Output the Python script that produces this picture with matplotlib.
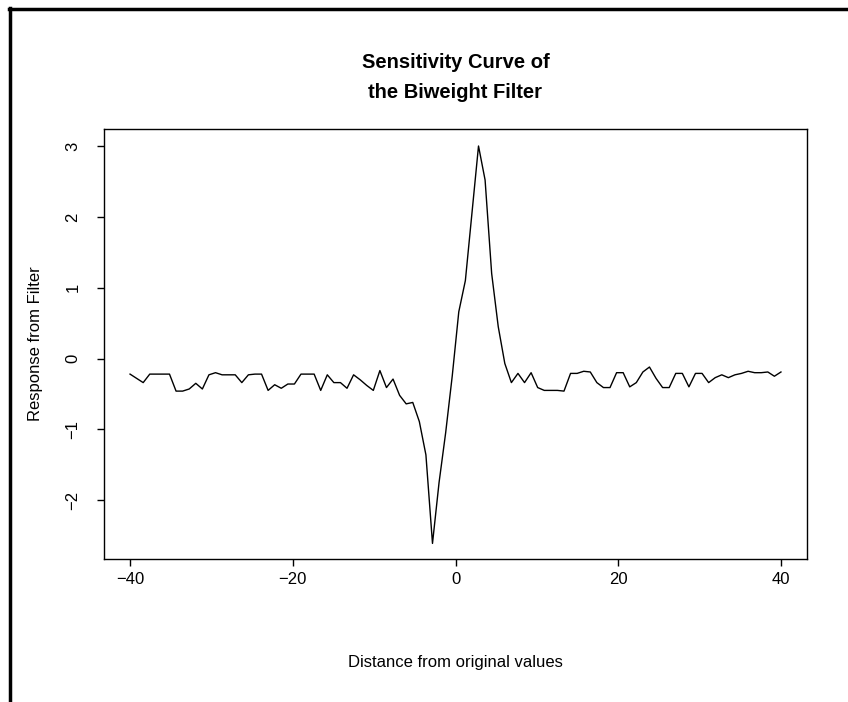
import numpy as np
import matplotlib.pyplot as plt
from matplotlib.lines import Line2D

plt.rcParams['font.family'] = ['Liberation Sans', 'DejaVu Sans']

# distance grid (100 evenly spaced values) and filter response
distance = np.linspace(-40, 40, 100)
response = [
    -0.22, -0.28, -0.34, -0.22, -0.22, -0.22, -0.22, -0.46, -0.46, -0.43,
    -0.35, -0.43, -0.23, -0.20, -0.23, -0.23, -0.23, -0.34, -0.23, -0.22,
    -0.22, -0.45, -0.37, -0.42, -0.36, -0.36, -0.22, -0.22, -0.22, -0.45,
    -0.23, -0.34, -0.34, -0.42, -0.23, -0.30, -0.38, -0.45, -0.17, -0.41,
    -0.29, -0.52, -0.64, -0.62, -0.89, -1.36, -2.61, -1.75, -1.05, -0.25,
    0.66, 1.10, 2.05, 3.00, 2.52, 1.20, 0.45, -0.07, -0.34, -0.21,
    -0.34, -0.20, -0.41, -0.45, -0.45, -0.45, -0.46, -0.21, -0.21, -0.18,
    -0.19, -0.34, -0.41, -0.41, -0.20, -0.20, -0.40, -0.34, -0.19, -0.12,
    -0.28, -0.41, -0.41, -0.21, -0.21, -0.40, -0.21, -0.21, -0.34, -0.27,
    -0.23, -0.27, -0.23, -0.21, -0.18, -0.20, -0.20, -0.19, -0.25, -0.19,
]
xticks = [-40, -20, 0, 20, 40]
yticks = [-2, -1, 0, 1, 2, 3]

fig = plt.figure(figsize=(8.48, 7.02), dpi=100)
ax = fig.add_axes([104/848, 1-559/702, (807-104)/848, (559-129)/702])
ax.plot(distance, response, color='black', linewidth=1.0)
ax.set_xlim(-43.2, 43.2)
ax.set_ylim(-2.83, 3.24)
ax.set_xticks(xticks)
ax.set_yticks(yticks)
ax.set_yticklabels([str(t) if t >= 0 else '\u2212' + str(-t) for t in yticks],
                   rotation=90, va='center')
ax.tick_params(direction='out', length=5, width=1, labelsize=12)
ax.tick_params(axis='x', pad=4)
ax.tick_params(axis='y', pad=12)
for s in ax.spines.values():
    s.set_linewidth(1)
ax.set_xlabel('Distance from original values', fontsize=12, labelpad=49)
ax.set_ylabel('Response from Filter', fontsize=12, labelpad=16)
ax.set_title('Sensitivity Curve of\nthe Biweight Filter', fontsize=14.5,
             fontweight='bold', pad=22, linespacing=1.75)

# frame edges of the original image
fig.add_artist(Line2D([9/848, 1], [1-9/702, 1-9/702], color='black', linewidth=2.5,
                      transform=fig.transFigure))
fig.add_artist(Line2D([10/848, 10/848], [0, 1-8/702], color='black', linewidth=2.5,
                      transform=fig.transFigure))

plt.savefig('out.png', dpi=100)
